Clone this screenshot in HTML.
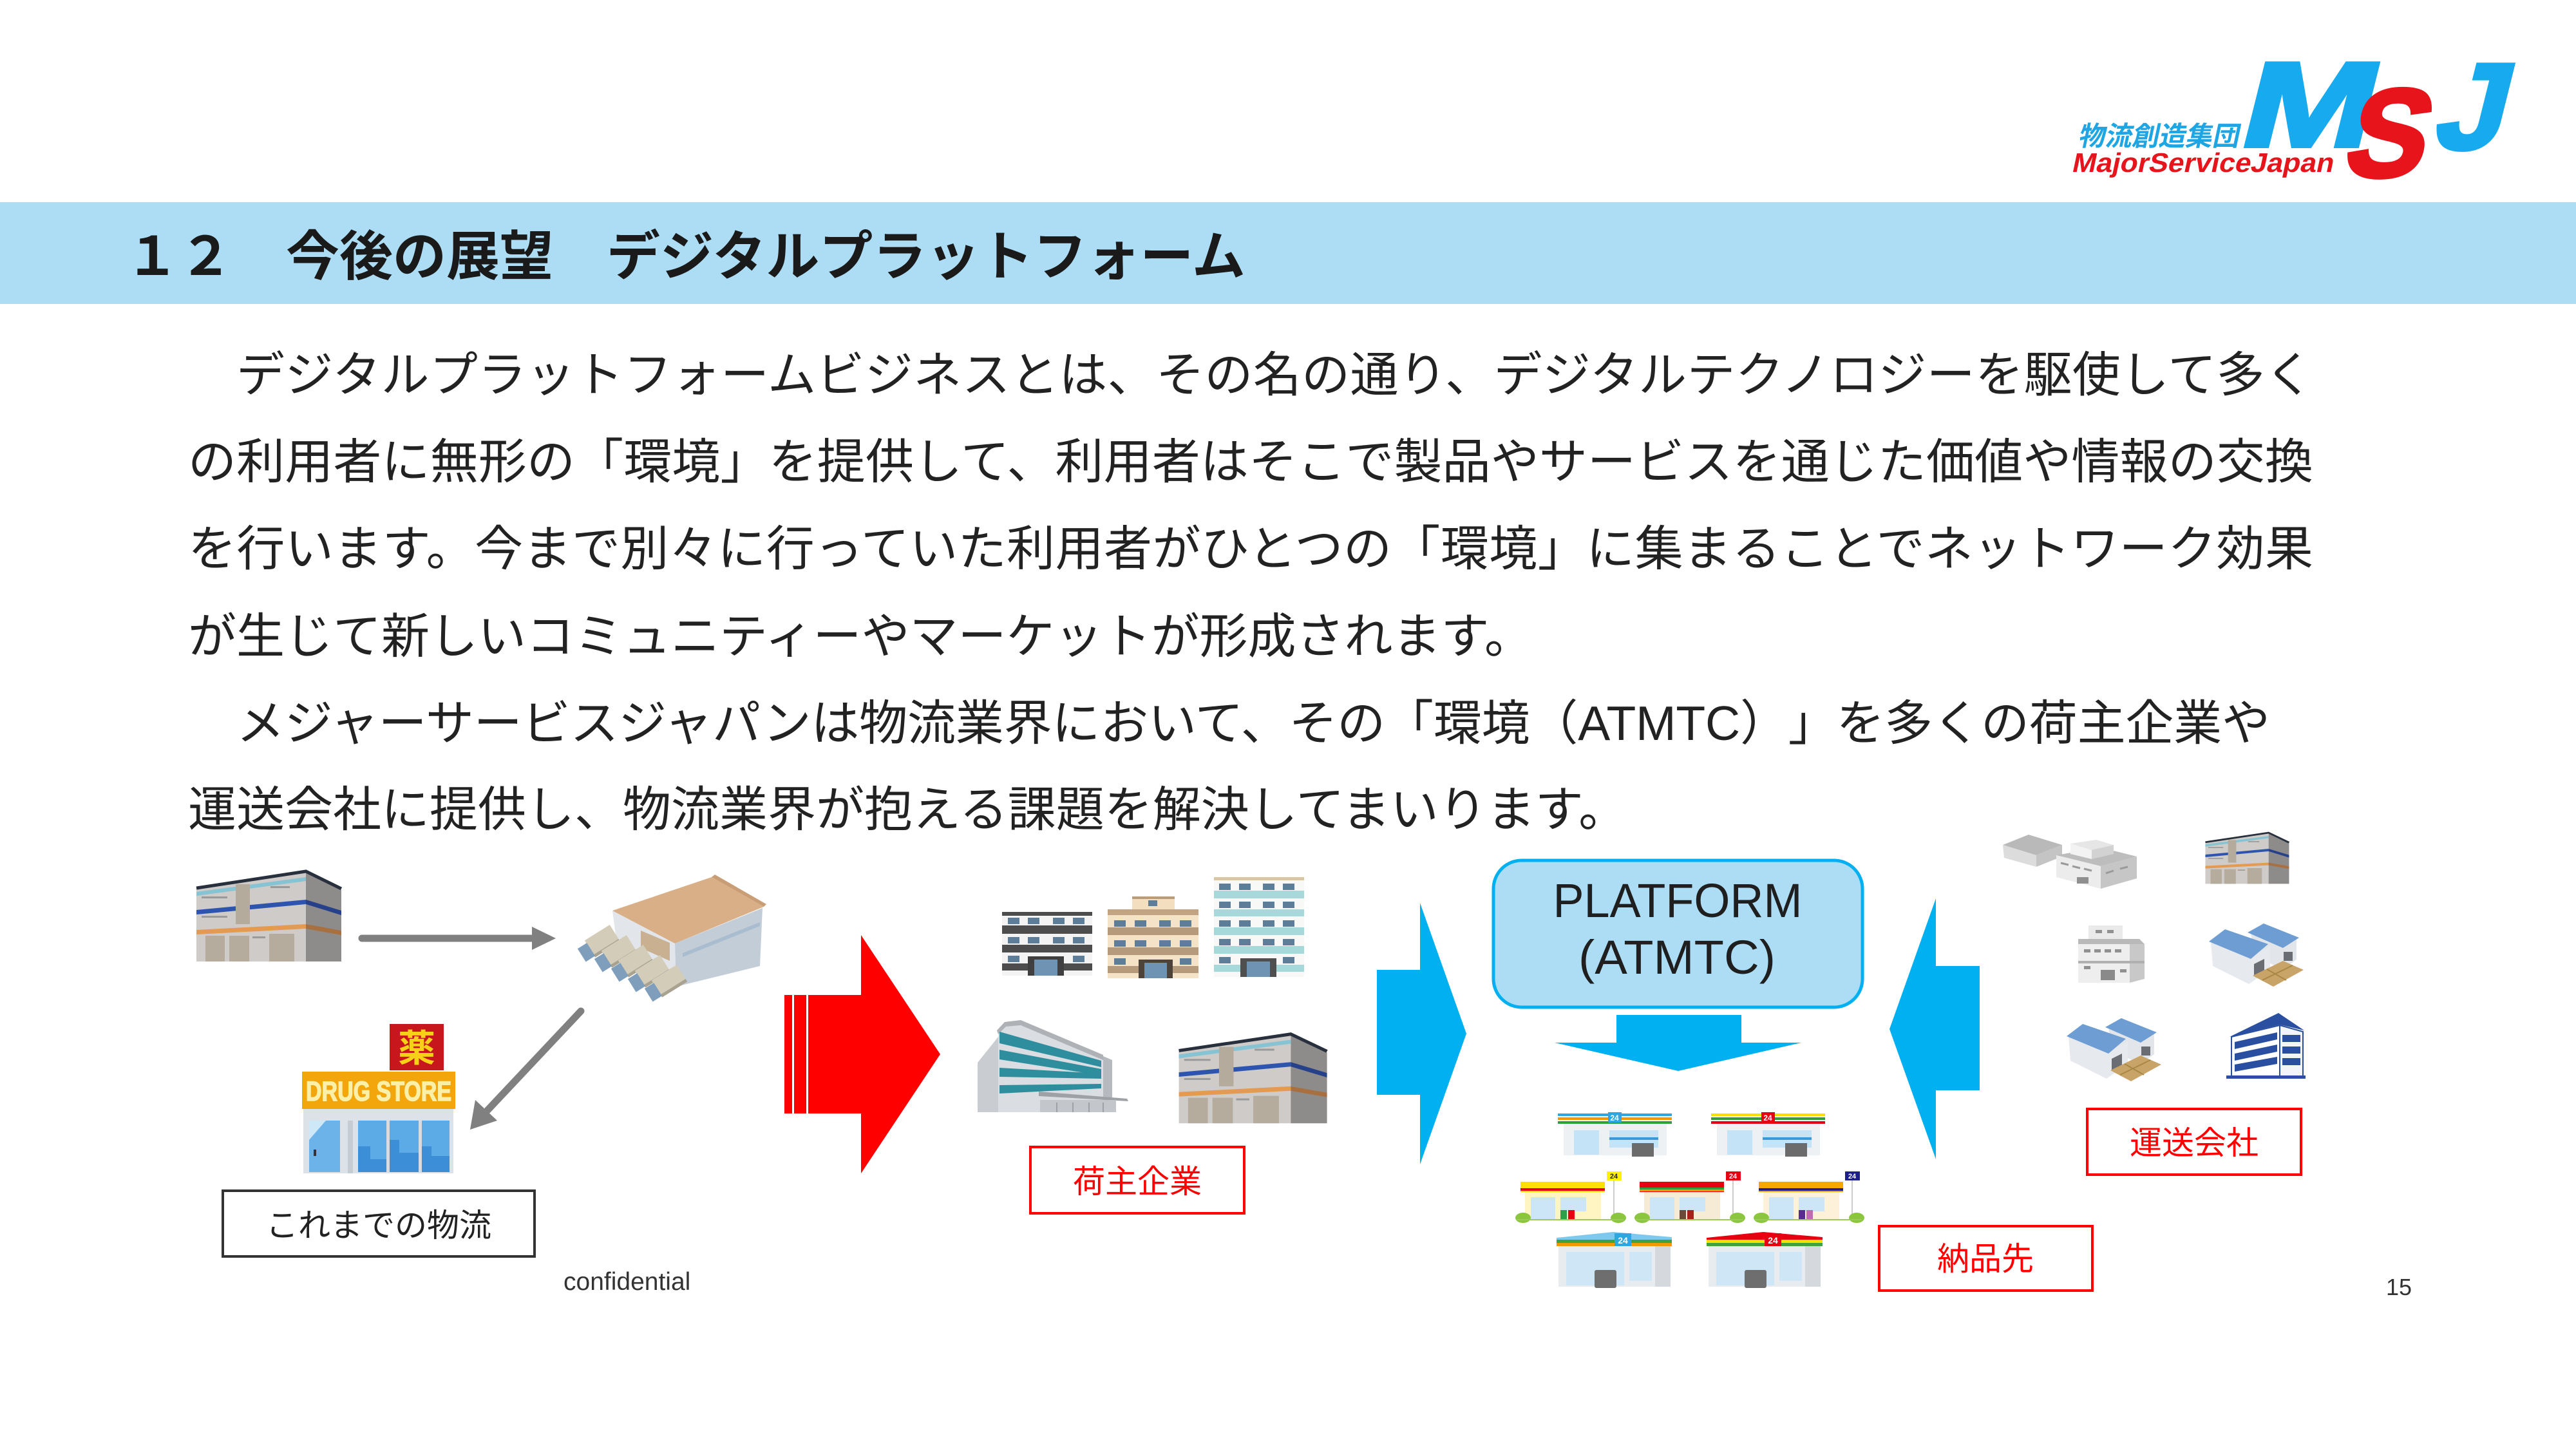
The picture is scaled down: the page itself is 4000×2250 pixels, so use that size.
<!DOCTYPE html>
<html><head><meta charset="utf-8">
<style>
html,body{margin:0;padding:0;background:#fff;}
svg{display:block;text-spacing-trim:space-all;}
text{text-spacing-trim:space-all;}
</style></head><body>
<svg width="4000" height="2250" viewBox="0 0 4000 2250" xmlns="http://www.w3.org/2000/svg">
<defs>
 <symbol id="wh" viewBox="0 0 270 180" preserveAspectRatio="none">
   <polygon points="25,50 195,25 195,163 25,163" fill="#CECBC8"/>
   <polygon points="195,25 250,52 250,163 195,163" fill="#8E8C8A"/>
   <polygon points="25,55 195,32 195,38 25,61" fill="#86C3D3"/>
   <polygon points="25,83 195,67 195,74 25,90" fill="#2D55B0"/>
   <polygon points="195,67 250,84 250,91 195,74" fill="#26408A"/>
   <polygon points="25,114 195,105 195,112 25,121" fill="#E49A50"/>
   <polygon points="195,105 250,115 250,122 195,112" fill="#A87040"/>
   <rect x="86" y="43" width="22" height="62" fill="#B4AB9D"/>
   <rect x="33" y="62" width="40" height="3" fill="#9A9A9A"/>
   <rect x="33" y="92" width="40" height="3" fill="#9A9A9A"/>
   <rect x="140" y="46" width="30" height="3" fill="#9A9A9A"/>
   <rect x="39" y="123" width="30" height="40" fill="#B5AC9E"/>
   <rect x="76" y="123" width="31" height="40" fill="#B5AC9E"/>
   <rect x="138" y="120" width="39" height="43" fill="#B5AC9E"/>
   <rect x="112" y="124" width="20" height="3" fill="#9A9A9A"/>
   <polyline points="25,49 195,23 250,50" fill="none" stroke="#27303C" stroke-width="5"/>
 </symbol>
 <g id="bw">
   <polygon points="3495,1448 3545,1470 3566,1458 3566,1490 3545,1505 3500,1485" fill="#E2E6EB"/>
   <polygon points="3490,1448 3515,1434 3570,1456 3545,1472" fill="#6E9DD4"/>
   <rect x="3546" y="1478" width="14" height="14" fill="#6A6E74"/>
   <polygon points="3433,1462 3492,1488 3525,1470 3525,1505 3492,1528 3436,1500" fill="#E6E9ED"/>
   <polygon points="3430,1462 3455,1443 3522,1466 3495,1489" fill="#6E9DD4"/>
   <polygon points="3500,1497 3516,1489 3516,1508 3500,1516" fill="#6A6E74"/>
   <polygon points="3498,1515 3545,1492 3577,1506 3530,1532" fill="#C9A468"/>
   <line x1="3513" y1="1522" x2="3560" y2="1499" stroke="#A88845" stroke-width="2"/>
   <line x1="3520" y1="1505" x2="3550" y2="1522" stroke="#A88845" stroke-width="2"/>
 </g>
</defs>

<!-- Header band -->
<rect x="0" y="314" width="4000" height="158" fill="#ACDDF5"/>
<text x="195" y="427" font-family="'Liberation Sans','Noto Sans CJK JP',sans-serif" font-size="83" font-weight="700" fill="#1A1A1A">１２　今後の展望　デジタルプラットフォーム</text>

<!-- Logo -->
<g transform="translate(3226,226) skewX(-12)">
  <text x="0" y="0" font-family="'Liberation Sans','Noto Sans CJK JP',sans-serif" font-size="42" font-weight="700" fill="#1EA6E4" textLength="250" lengthAdjust="spacingAndGlyphs">物流創造集団</text>
</g>
<g transform="translate(3216,267) skewX(-12)">
  <text x="0" y="0" font-family="'Liberation Sans',sans-serif" font-size="42" font-weight="700" fill="#E8141C" textLength="406" lengthAdjust="spacingAndGlyphs">MajorServiceJapan</text>
</g>
<g transform="translate(3484,227) skewX(-14)">
  <text x="-12" y="0" font-family="'Liberation Sans',sans-serif" font-size="187" font-weight="700" fill="#18AAEE" stroke="#18AAEE" stroke-width="6" textLength="204" lengthAdjust="spacingAndGlyphs">M</text>
</g>
<g transform="translate(3780,231) skewX(-14)">
  <text x="-5" y="0" font-family="'Liberation Sans',sans-serif" font-size="190" font-weight="700" fill="#18AAEE" stroke="#18AAEE" stroke-width="6" textLength="108" lengthAdjust="spacingAndGlyphs">J</text>
</g>
<g transform="translate(3640,274) skewX(-14)">
  <text x="-6" y="0" font-family="'Liberation Sans',sans-serif" font-size="195" font-weight="700" fill="#E8141C" stroke="#E8141C" stroke-width="6" textLength="124" lengthAdjust="spacingAndGlyphs">S</text>
</g>

<!-- Body text -->
<g font-family="'Liberation Sans','Noto Sans CJK JP',sans-serif" font-size="75" fill="#222">
  <text x="367" y="608" textLength="3225" lengthAdjust="spacing">デジタルプラットフォームビジネスとは、その名の通り、デジタルテクノロジーを駆使して多く</text>
  <text x="292" y="743" textLength="3300" lengthAdjust="spacing">の利用者に無形の「環境」を提供して、利用者はそこで製品やサービスを通じた価値や情報の交換</text>
  <text x="292" y="878" textLength="3300" lengthAdjust="spacing">を行います。今まで別々に行っていた利用者がひとつの「環境」に集まることでネットワーク効果</text>
  <text x="292" y="1014">が生じて新しいコミュニティーやマーケットが形成されます。</text>
  <text x="367" y="1149" textLength="3158" lengthAdjust="spacing">メジャーサービスジャパンは物流業界において、その「環境（ATMTC）」を多くの荷主企業や</text>
  <text x="292" y="1283">運送会社に提供し、物流業界が抱える課題を解決してまいります。</text>
</g>

<!-- Left section: warehouse -->
<use href="#wh" x="280" y="1330" width="270" height="180"/>

<!-- gray arrow right -->
<line x1="562" y1="1457" x2="832" y2="1457" stroke="#808080" stroke-width="11" stroke-linecap="round"/>
<polygon points="826,1439 863,1457 826,1475" fill="#808080"/>

<!-- trucks warehouse -->
<g>
  <polygon points="951,1414 1048,1465 1050,1532 960,1482" fill="#E2E6EA"/>
  <polygon points="1048,1465 1184,1410 1180,1500 1050,1532" fill="#C3CDD8"/>
  <polygon points="1060,1480 1180,1432 1180,1438 1060,1486" fill="#A9BCD0"/>
  <polygon points="995,1445 1040,1464 1040,1492 995,1472" fill="#C8B090"/>
  <polygon points="951,1414 1105,1362 1186,1408 1048,1465" fill="#D9AF87"/>
  <polygon points="1105,1362 1186,1408 1190,1404 1110,1358" fill="#C99E76"/>
  <g transform="translate(922,1468) rotate(-32)"><rect x="-8" y="-14" width="46" height="26" fill="#D3CCB8"/><rect x="-8" y="12" width="46" height="5" fill="#A9A290"/><rect x="-24" y="-9" width="17" height="24" fill="#7E9EBB"/></g>
  <g transform="translate(948,1484) rotate(-32)"><rect x="-8" y="-14" width="46" height="26" fill="#D3CCB8"/><rect x="-8" y="12" width="46" height="5" fill="#A9A290"/><rect x="-24" y="-9" width="17" height="24" fill="#7E9EBB"/></g>
  <g transform="translate(974,1499) rotate(-32)"><rect x="-8" y="-14" width="46" height="26" fill="#D3CCB8"/><rect x="-8" y="12" width="46" height="5" fill="#A9A290"/><rect x="-24" y="-9" width="17" height="24" fill="#7E9EBB"/></g>
  <g transform="translate(1000,1515) rotate(-32)"><rect x="-8" y="-14" width="46" height="26" fill="#D3CCB8"/><rect x="-8" y="12" width="46" height="5" fill="#A9A290"/><rect x="-24" y="-9" width="17" height="24" fill="#7E9EBB"/></g>
  <g transform="translate(1026,1530) rotate(-32)"><rect x="-8" y="-14" width="46" height="26" fill="#D3CCB8"/><rect x="-8" y="12" width="46" height="5" fill="#A9A290"/><rect x="-24" y="-9" width="17" height="24" fill="#7E9EBB"/></g>
</g>

<!-- diagonal gray arrow -->
<line x1="902" y1="1570" x2="757" y2="1724" stroke="#808080" stroke-width="11" stroke-linecap="round"/>
<polygon points="730,1754 738,1708 772,1740" fill="#808080"/>

<!-- Drug store -->
<g>
  <rect x="605" y="1590" width="84" height="72" fill="#C8161D"/>
  <text x="647" y="1648" text-anchor="middle" font-family="'Liberation Sans','Noto Sans CJK JP',sans-serif" font-size="58" font-weight="700" fill="#F7D117">薬</text>
  <rect x="469" y="1664" width="238" height="58" fill="#F2A60C"/>
  <text x="588" y="1709" text-anchor="middle" font-family="'Liberation Sans',sans-serif" font-size="43" font-weight="700" fill="#FCEFA8" stroke="#FCEFA8" stroke-width="1.5" textLength="226" lengthAdjust="spacingAndGlyphs">DRUG STORE</text>
  <rect x="471" y="1722" width="233" height="100" fill="#DCE2E8"/>
  <rect x="480" y="1740" width="48" height="80" fill="#6BB3E8"/>
  <polygon points="480,1740 506,1740 480,1770" fill="#CFE8F8"/>
  <rect x="540" y="1740" width="8" height="82" fill="#C5CCD3"/>
  <rect x="556" y="1740" width="142" height="80" fill="#5CABE6"/>
  <polygon points="556,1780 575,1780 575,1800 600,1800 600,1770 620,1770 620,1790 650,1790 650,1780 670,1780 670,1795 698,1795 698,1820 556,1820" fill="#3C8FD6"/>
  <rect x="600" y="1740" width="5" height="80" fill="#D5DCE3"/>
  <rect x="650" y="1740" width="5" height="80" fill="#D5DCE3"/>
  <rect x="487" y="1785" width="4" height="10" fill="#333"/>
</g>

<!-- Box これまでの物流 -->
<rect x="346" y="1849" width="484" height="102" fill="#fff" stroke="#333" stroke-width="4"/>
<text x="588" y="1920" text-anchor="middle" font-family="'Liberation Sans','Noto Sans CJK JP',sans-serif" font-size="50" fill="#222">これまでの物流</text>

<text x="875" y="2003" font-family="'Liberation Sans',sans-serif" font-size="39" fill="#333">confidential</text>

<!-- Red arrow -->
<polygon points="1218,1545 1337,1545 1337,1452 1460,1637 1337,1822 1337,1729 1218,1729" fill="#FF0000"/>
<rect x="1230" y="1545" width="3" height="184" fill="#fff"/>
<rect x="1252" y="1545" width="3" height="184" fill="#fff"/>

<!-- Apartments -->
<g>
  <rect x="1556" y="1416" width="140" height="99" fill="#F3F3F3"/>
  <rect x="1556" y="1416" width="140" height="6" fill="#4D4D4D"/>
  <rect x="1556" y="1437" width="140" height="13" fill="#4D4D4D"/>
  <rect x="1556" y="1467" width="140" height="12" fill="#4D4D4D"/>
  <rect x="1556" y="1496" width="140" height="11" fill="#4D4D4D"/>
  <g fill="#5E7D98">
    <rect x="1565" y="1425" width="18" height="10"/><rect x="1596" y="1425" width="18" height="10"/><rect x="1635" y="1425" width="18" height="10"/><rect x="1666" y="1425" width="18" height="10"/>
    <rect x="1565" y="1455" width="18" height="10"/><rect x="1596" y="1455" width="18" height="10"/><rect x="1635" y="1455" width="18" height="10"/><rect x="1666" y="1455" width="18" height="10"/>
    <rect x="1565" y="1484" width="18" height="10"/><rect x="1666" y="1484" width="18" height="10"/>
  </g>
  <rect x="1596" y="1485" width="56" height="30" fill="#3F3F3F"/>
  <rect x="1606" y="1490" width="36" height="25" fill="#6E93B3"/>

  <rect x="1758" y="1392" width="66" height="20" fill="#F3DFC0"/>
  <rect x="1758" y="1392" width="66" height="4" fill="#B89D7C"/>
  <rect x="1720" y="1412" width="141" height="107" fill="#F4E3C6"/>
  <rect x="1720" y="1412" width="141" height="9" fill="#C0A483"/>
  <rect x="1720" y="1440" width="141" height="12" fill="#B59A7B"/>
  <rect x="1720" y="1471" width="141" height="12" fill="#B59A7B"/>
  <rect x="1720" y="1500" width="141" height="11" fill="#B59A7B"/>
  <g fill="#5E7D98">
    <rect x="1783" y="1398" width="14" height="9"/>
    <rect x="1730" y="1429" width="18" height="10"/><rect x="1762" y="1429" width="18" height="10"/><rect x="1800" y="1429" width="18" height="10"/><rect x="1832" y="1429" width="18" height="10"/>
    <rect x="1730" y="1460" width="18" height="10"/><rect x="1762" y="1460" width="18" height="10"/><rect x="1800" y="1460" width="18" height="10"/><rect x="1832" y="1460" width="18" height="10"/>
    <rect x="1730" y="1488" width="18" height="10"/><rect x="1832" y="1488" width="18" height="10"/>
  </g>
  <rect x="1768" y="1490" width="53" height="29" fill="#4E4339"/>
  <rect x="1777" y="1495" width="35" height="24" fill="#6E93B3"/>

  <rect x="1885" y="1362" width="140" height="155" fill="#F8F8F6"/>
  <rect x="1885" y="1362" width="140" height="5" fill="#D9C6A3"/>
  <g fill="#A7D9DB">
    <rect x="1885" y="1383" width="140" height="12"/><rect x="1885" y="1412" width="140" height="11"/><rect x="1885" y="1440" width="140" height="12"/><rect x="1885" y="1469" width="140" height="12"/><rect x="1885" y="1498" width="140" height="11"/>
  </g>
  <g fill="#5E7D98">
    <rect x="1893" y="1372" width="18" height="10"/><rect x="1924" y="1372" width="18" height="10"/><rect x="1961" y="1372" width="18" height="10"/><rect x="1992" y="1372" width="18" height="10"/>
    <rect x="1893" y="1400" width="18" height="10"/><rect x="1924" y="1400" width="18" height="10"/><rect x="1961" y="1400" width="18" height="10"/><rect x="1992" y="1400" width="18" height="10"/>
    <rect x="1893" y="1429" width="18" height="10"/><rect x="1924" y="1429" width="18" height="10"/><rect x="1961" y="1429" width="18" height="10"/><rect x="1992" y="1429" width="18" height="10"/>
    <rect x="1893" y="1458" width="18" height="10"/><rect x="1924" y="1458" width="18" height="10"/><rect x="1961" y="1458" width="18" height="10"/><rect x="1992" y="1458" width="18" height="10"/>
    <rect x="1893" y="1486" width="18" height="10"/><rect x="1992" y="1486" width="18" height="10"/>
  </g>
  <rect x="1926" y="1488" width="56" height="29" fill="#4F4F4F"/>
  <rect x="1936" y="1493" width="36" height="24" fill="#6E93B3"/>
</g>

<!-- Curved office -->
<g>
  <polygon points="1518,1650 1550,1610 1550,1727 1518,1727" fill="#C9CDD2"/>
  <polygon points="1550,1610 1552,1595 1565,1586 1585,1585 1713,1640 1713,1727 1550,1727" fill="#DADDE1"/>
  <polygon points="1548,1600 1560,1587 1585,1584 1713,1638 1713,1646 1585,1592 1562,1594 1550,1606" fill="#AEB2B7"/>
  <polygon points="1713,1640 1727,1646 1727,1727 1713,1727" fill="#B6BABF"/>
  <g fill="#2E8E9E">
    <polygon points="1552,1602 1710,1647 1710,1657 1552,1620"/>
    <polygon points="1552,1630 1710,1660 1710,1670 1552,1645"/>
    <polygon points="1552,1658 1710,1667 1710,1675 1552,1672"/>
    <polygon points="1552,1685 1710,1683 1710,1690 1552,1698"/>
  </g>
  <polygon points="1613,1695 1750,1706 1752,1710 1613,1702" fill="#9EA2A7"/>
  <rect x="1615" y="1708" width="118" height="19" fill="#C3C6CA"/>
  <g fill="#9EA2A7"><rect x="1640" y="1712" width="2" height="15"/><rect x="1665" y="1712" width="2" height="15"/><rect x="1690" y="1712" width="2" height="15"/><rect x="1712" y="1712" width="2" height="15"/></g>
</g>
<use href="#wh" x="1805" y="1583" width="276" height="178"/>

<!-- Box 荷主企業 -->
<rect x="1600" y="1781" width="332" height="103" fill="#fff" stroke="#FF0000" stroke-width="4"/>
<text x="1766" y="1852" text-anchor="middle" font-family="'Liberation Sans','Noto Sans CJK JP',sans-serif" font-size="50" fill="#FF0000">荷主企業</text>

<!-- Blue arrows -->
<polygon points="2138,1506 2205,1506 2205,1402 2277,1605 2205,1808 2205,1700 2138,1700" fill="#00B0F0"/>
<polygon points="3074,1500 3006,1500 3006,1395 2934,1598 3006,1800 3006,1693 3074,1693" fill="#00B0F0"/>

<!-- Platform -->
<rect x="2319" y="1336" width="573" height="228" rx="44" ry="44" fill="#ACDDF5" stroke="#00B0F0" stroke-width="5"/>
<text x="2605" y="1424" text-anchor="middle" font-family="'Liberation Sans',sans-serif" font-size="74" fill="#1F1F1F" textLength="387" lengthAdjust="spacingAndGlyphs">PLATFORM</text>
<text x="2604" y="1512" text-anchor="middle" font-family="'Liberation Sans',sans-serif" font-size="74" fill="#1F1F1F" textLength="306" lengthAdjust="spacingAndGlyphs">(ATMTC)</text>

<!-- down arrow -->
<rect x="2510" y="1576" width="194" height="44" fill="#00B0F0"/>
<polygon points="2414,1619 2797,1619 2606,1663" fill="#00B0F0"/>

<!-- Convenience stores row 1 -->
<g>
  <rect x="2428" y="1744" width="160" height="50" fill="#EEF1F4"/>
  <rect x="2419" y="1729" width="177" height="4" fill="#2EA7E0"/>
  <rect x="2419" y="1735" width="177" height="4" fill="#F39800"/>
  <rect x="2419" y="1741" width="177" height="4" fill="#2E9F3E"/>
  <rect x="2497" y="1727" width="21" height="16" fill="#2EA7E0"/>
  <text x="2507" y="1740" text-anchor="middle" font-family="'Liberation Sans',sans-serif" font-size="12" font-weight="700" fill="#fff">24</text>
  <rect x="2444" y="1755" width="39" height="38" fill="#C5E3F6"/>
  <rect x="2499" y="1755" width="76" height="27" fill="#C5E3F6"/>
  <rect x="2499" y="1766" width="76" height="4" fill="#3A9AD9"/>
  <rect x="2534" y="1775" width="34" height="21" fill="#6B6B6B"/>
</g>
<g>
  <rect x="2666" y="1744" width="160" height="50" fill="#EEF1F4"/>
  <rect x="2657" y="1729" width="177" height="4" fill="#F5E000"/>
  <rect x="2657" y="1735" width="177" height="4" fill="#2E9F3E"/>
  <rect x="2657" y="1741" width="177" height="4" fill="#E60012"/>
  <rect x="2735" y="1727" width="21" height="16" fill="#E60012"/>
  <text x="2745" y="1740" text-anchor="middle" font-family="'Liberation Sans',sans-serif" font-size="12" font-weight="700" fill="#fff">24</text>
  <rect x="2682" y="1755" width="39" height="38" fill="#C5E3F6"/>
  <rect x="2737" y="1755" width="76" height="27" fill="#C5E3F6"/>
  <rect x="2737" y="1766" width="76" height="4" fill="#3A9AD9"/>
  <rect x="2772" y="1775" width="34" height="21" fill="#6B6B6B"/>
</g>

<!-- Row 2 -->
<g transform="translate(2355,1819)">
  <line x1="151" y1="14" x2="151" y2="74" stroke="#CCCCCC" stroke-width="2"/>
  <rect x="140" y="0" width="23" height="14" fill="#FFF100"/>
  <text x="151" y="11" text-anchor="middle" font-family="'Liberation Sans',sans-serif" font-size="11" font-weight="700" fill="#222">24</text>
  <rect x="13" y="32" width="118" height="42" fill="#FFF5C2"/>
  <rect x="6" y="16" width="131" height="16" fill="#FFE000"/>
  <rect x="6" y="26" width="131" height="4" fill="#E60012"/>
  <rect x="22" y="40" width="38" height="34" fill="#CDE6F7"/>
  <rect x="68" y="40" width="40" height="22" fill="#CDE6F7"/>
  <rect x="68" y="60" width="10" height="14" fill="#2EA04A"/><rect x="80" y="60" width="10" height="14" fill="#E60012"/>
  <ellipse cx="10" cy="72" rx="12" ry="8" fill="#8CC63F"/><ellipse cx="158" cy="72" rx="12" ry="8" fill="#8CC63F"/>
  <rect x="0" y="74" width="166" height="2" fill="#9CCB5A"/>
</g>
<g transform="translate(2540,1819)">
  <line x1="151" y1="14" x2="151" y2="74" stroke="#CCCCCC" stroke-width="2"/>
  <rect x="140" y="0" width="23" height="14" fill="#E60012"/>
  <text x="151" y="11" text-anchor="middle" font-family="'Liberation Sans',sans-serif" font-size="11" font-weight="700" fill="#fff">24</text>
  <rect x="13" y="32" width="118" height="42" fill="#F6ECD6"/>
  <rect x="6" y="16" width="131" height="16" fill="#E60012"/>
  <rect x="6" y="25" width="131" height="3" fill="#2E9F3E"/>
  <rect x="6" y="28" width="131" height="3" fill="#F39800"/>
  <rect x="22" y="40" width="38" height="34" fill="#CDE6F7"/>
  <rect x="68" y="40" width="40" height="22" fill="#CDE6F7"/>
  <rect x="68" y="60" width="10" height="14" fill="#6B4A3A"/><rect x="80" y="60" width="10" height="14" fill="#A8201A"/>
  <ellipse cx="10" cy="72" rx="12" ry="8" fill="#8CC63F"/><ellipse cx="158" cy="72" rx="12" ry="8" fill="#8CC63F"/>
  <rect x="0" y="74" width="166" height="2" fill="#9CCB5A"/>
</g>
<g transform="translate(2725,1819)">
  <line x1="151" y1="14" x2="151" y2="74" stroke="#CCCCCC" stroke-width="2"/>
  <rect x="140" y="0" width="23" height="14" fill="#1D2088"/>
  <text x="151" y="11" text-anchor="middle" font-family="'Liberation Sans',sans-serif" font-size="11" font-weight="700" fill="#fff">24</text>
  <rect x="13" y="32" width="118" height="42" fill="#FDF1DA"/>
  <rect x="6" y="16" width="131" height="16" fill="#F6A800"/>
  <rect x="6" y="26" width="131" height="4" fill="#1D2088"/>
  <rect x="22" y="40" width="38" height="34" fill="#CDE6F7"/>
  <rect x="68" y="40" width="40" height="22" fill="#CDE6F7"/>
  <rect x="68" y="60" width="10" height="14" fill="#5A2D8C"/><rect x="80" y="60" width="10" height="14" fill="#C06BB0"/>
  <ellipse cx="10" cy="72" rx="12" ry="8" fill="#8CC63F"/><ellipse cx="158" cy="72" rx="12" ry="8" fill="#8CC63F"/>
  <rect x="0" y="74" width="166" height="2" fill="#9CCB5A"/>
</g>

<!-- Row 3 -->
<g>
  <rect x="2420" y="1934" width="174" height="64" fill="#E9ECEF"/>
  <rect x="2570" y="1934" width="24" height="64" fill="#D5D9DD"/>
  <polygon points="2417,1922 2505,1913 2596,1921 2596,1925 2417,1926" fill="#7CC8EE"/>
  <rect x="2417" y="1925" width="179" height="5" fill="#3DA33A"/>
  <rect x="2417" y="1930" width="179" height="5" fill="#F39800"/>
  <rect x="2507" y="1915" width="26" height="20" fill="#2EA7E0"/>
  <text x="2520" y="1931" text-anchor="middle" font-family="'Liberation Sans',sans-serif" font-size="14" font-weight="700" fill="#fff">24</text>
  <rect x="2432" y="1944" width="90" height="52" fill="#CFE6F6"/>
  <rect x="2530" y="1944" width="35" height="45" fill="#CFE6F6"/>
  <rect x="2476" y="1972" width="34" height="28" rx="3" fill="#6E6E6E"/>
</g>
<g>
  <rect x="2653" y="1934" width="174" height="64" fill="#E9ECEF"/>
  <rect x="2803" y="1934" width="24" height="64" fill="#D5D9DD"/>
  <polygon points="2650,1922 2738,1913 2830,1921 2830,1925 2650,1926" fill="#E60012"/>
  <rect x="2650" y="1925" width="180" height="5" fill="#F5E000"/>
  <rect x="2650" y="1930" width="180" height="5" fill="#3DA33A"/>
  <rect x="2740" y="1915" width="26" height="20" fill="#E60012"/>
  <text x="2753" y="1931" text-anchor="middle" font-family="'Liberation Sans',sans-serif" font-size="14" font-weight="700" fill="#fff">24</text>
  <rect x="2665" y="1944" width="90" height="52" fill="#CFE6F6"/>
  <rect x="2763" y="1944" width="35" height="45" fill="#CFE6F6"/>
  <rect x="2709" y="1972" width="34" height="28" rx="3" fill="#6E6E6E"/>
</g>

<!-- Box 納品先 -->
<rect x="2918" y="1904" width="331" height="100" fill="#fff" stroke="#FF0000" stroke-width="4"/>
<text x="3083" y="1972" text-anchor="middle" font-family="'Liberation Sans','Noto Sans CJK JP',sans-serif" font-size="50" fill="#FF0000">納品先</text>

<!-- Right section icons -->
<g>
  <polygon points="3110,1312 3150,1296 3202,1312 3162,1328" fill="#B9B9B9"/>
  <polygon points="3110,1312 3162,1328 3162,1346 3112,1332" fill="#DCDCDC"/>
  <polygon points="3162,1328 3202,1312 3202,1330 3162,1346" fill="#C4C4C4"/>
  <polygon points="3193,1328 3262,1316 3318,1330 3262,1345" fill="#BDBDBD"/>
  <polygon points="3193,1328 3262,1345 3262,1380 3193,1362" fill="#ECECEC"/>
  <polygon points="3262,1345 3318,1330 3318,1364 3262,1380" fill="#C6C6C6"/>
  <polygon points="3215,1310 3255,1304 3282,1312 3248,1320" fill="#E6E6E6"/>
  <polygon points="3215,1310 3248,1320 3248,1334 3215,1326" fill="#F3F3F3"/>
  <polygon points="3248,1320 3282,1312 3282,1326 3248,1334" fill="#D2D2D2"/>
  <g stroke="#9A9A9A" stroke-width="3"><line x1="3200" y1="1340" x2="3212" y2="1343"/><line x1="3218" y1="1345" x2="3230" y2="1348"/><line x1="3236" y1="1349" x2="3248" y2="1352"/><line x1="3270" y1="1356" x2="3282" y2="1352"/><line x1="3292" y1="1349" x2="3304" y2="1346"/></g>
  <rect x="3225" y="1362" width="18" height="10" fill="#8F8F8F"/>
</g>
<use href="#wh" x="3410" y="1280" width="156" height="102"/>
<g>
  <rect x="3243" y="1437" width="53" height="21" fill="#EAEAEA"/>
  <polygon points="3227,1458 3322,1458 3330,1466 3227,1466" fill="#B9B9B9"/>
  <rect x="3227" y="1466" width="80" height="60" fill="#EEEEEE"/>
  <polygon points="3307,1466 3330,1466 3330,1520 3307,1526" fill="#C8C8C8"/>
  <rect x="3227" y="1492" width="103" height="4" fill="#B0B0B0"/>
  <g fill="#909090"><rect x="3236" y="1474" width="10" height="5"/><rect x="3252" y="1474" width="10" height="5"/><rect x="3268" y="1474" width="10" height="5"/><rect x="3284" y="1474" width="10" height="5"/><rect x="3236" y="1500" width="10" height="5"/><rect x="3292" y="1505" width="10" height="5"/><rect x="3254" y="1444" width="10" height="5"/><rect x="3272" y="1444" width="10" height="5"/></g>
  <rect x="3262" y="1506" width="22" height="16" fill="#8A8A8A"/>
</g>
<use href="#bw"/>
<use href="#bw" transform="translate(-221,147)"/>
<g>
  <polygon points="3465,1610 3540,1592 3540,1672 3465,1672" fill="#FFFFFF" stroke="#2B4FA0" stroke-width="2"/>
  <polygon points="3540,1592 3576,1602 3576,1672 3540,1672" fill="#F2F4F8" stroke="#2B4FA0" stroke-width="2"/>
  <polygon points="3462,1610 3538,1573 3578,1600 3540,1591" fill="#2B4FA0"/>
  <g fill="#2B4FA0">
    <polygon points="3470,1618 3536,1603 3536,1614 3470,1629"/>
    <polygon points="3470,1636 3536,1622 3536,1633 3470,1647"/>
    <polygon points="3470,1653 3536,1641 3536,1652 3470,1664"/>
    <rect x="3544" y="1607" width="28" height="11"/>
    <rect x="3544" y="1625" width="28" height="11"/>
    <rect x="3544" y="1643" width="28" height="11"/>
  </g>
  <rect x="3457" y="1670" width="123" height="5" fill="#2B4FA0"/>
</g>

<!-- Box 運送会社 -->
<rect x="3241" y="1722" width="332" height="102" fill="#fff" stroke="#FF0000" stroke-width="4"/>
<text x="3407" y="1792" text-anchor="middle" font-family="'Liberation Sans','Noto Sans CJK JP',sans-serif" font-size="50" fill="#FF0000">運送会社</text>

<text x="3705" y="2011" font-family="'Liberation Sans',sans-serif" font-size="36" fill="#333">15</text>
</svg>
</body></html>
